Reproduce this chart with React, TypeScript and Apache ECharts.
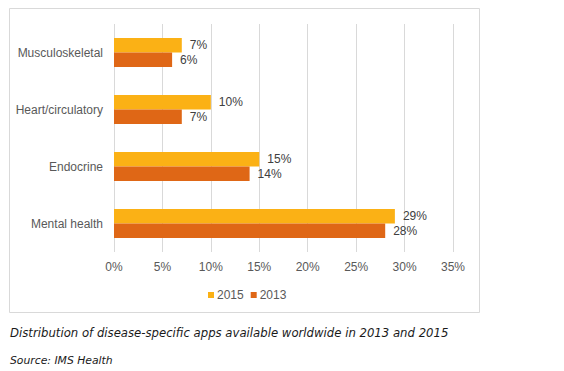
import React, { useEffect, useRef } from "react";
import * as echarts from "echarts";

const categories = ["Musculoskeletal", "Heart/circulatory", "Endocrine", "Mental health"];
const values2015 = [7, 10, 15, 29];
const values2013 = [6, 7, 14, 28];
const seriesNames = ["2015", "2013"];
const caption = "Distribution of disease-specific apps available worldwide in 2013 and 2015";
const source = "Source: IMS Health";

export default function App() {
  const ref = useRef<HTMLDivElement>(null);
  useEffect(() => {
    document.body.style.margin = "0";
    const chart = echarts.init(ref.current!, null, { renderer: "svg" });
    const labelStyle = {
      show: true,
      position: "right" as const,
      distance: 8,
      formatter: "{c}%",
      color: "#404040",
      fontSize: 12,
      fontFamily: "Liberation Sans, Arial, sans-serif",
    };
    chart.setOption({
      animation: false,
      backgroundColor: "#ffffff",
      grid: { left: 114, right: 111, top: 24, bottom: 119 },
      legend: {
        data: seriesNames,
        left: 203,
        top: 284,
        itemWidth: 6,
        itemHeight: 6,
        itemGap: 7,
        icon: "rect",
        textStyle: { color: "#595959", fontSize: 12, fontFamily: "Liberation Sans, Arial, sans-serif", padding: [0, 0, 0, -2] },
      },
      xAxis: {
        type: "value",
        min: 0,
        max: 35,
        interval: 5,
        axisLine: { show: false },
        axisTick: { show: false },
        splitLine: { show: true, lineStyle: { color: "#d9d9d9", width: 1 } },
        axisLabel: {
          formatter: "{value}%",
          color: "#595959",
          fontSize: 12,
          margin: 9,
          fontFamily: "Liberation Sans, Arial, sans-serif",
        },
      },
      yAxis: {
        type: "category",
        data: categories,
        inverse: true,
        axisLine: { show: false },
        axisTick: { show: false },
        axisLabel: {
          color: "#595959",
          fontSize: 12,
          margin: 11,
          fontFamily: "Liberation Sans, Arial, sans-serif",
        },
      },
      series: [
        {
          name: seriesNames[0],
          type: "bar",
          data: values2015,
          barWidth: 14.5,
          barGap: "0%",
          itemStyle: { color: "#FBB115" },
          label: labelStyle,
        },
        {
          name: seriesNames[1],
          type: "bar",
          data: values2013,
          barWidth: 14.5,
          barGap: "0%",
          itemStyle: { color: "#DF6716" },
          label: labelStyle,
        },
      ],
      graphic: [
        {
          type: "rect",
          shape: { x: 9.5, y: 8.5, width: 470, height: 304 },
          style: { fill: "none", stroke: "#d9d9d9", lineWidth: 1 },
          silent: true,
          z: -1,
        },
        {
          type: "text",
          x: 10,
          y: 333,
          style: {
            text: caption,
            fill: "#1a1a1a",
            fontSize: 11.7,
            fontStyle: "italic",
            fontFamily: "DejaVu Sans, Verdana, sans-serif",
            verticalAlign: "middle",
          },
        },
        {
          type: "text",
          x: 10,
          y: 360,
          style: {
            text: source,
            fill: "#1a1a1a",
            fontSize: 10.8,
            fontStyle: "italic",
            fontFamily: "DejaVu Sans, Verdana, sans-serif",
            verticalAlign: "middle",
          },
        },
      ],
    });
    return () => chart.dispose();
  }, []);
  return <div ref={ref} style={{ position: "fixed", left: 0, top: 0, width: 564, height: 371 }} />;
}
